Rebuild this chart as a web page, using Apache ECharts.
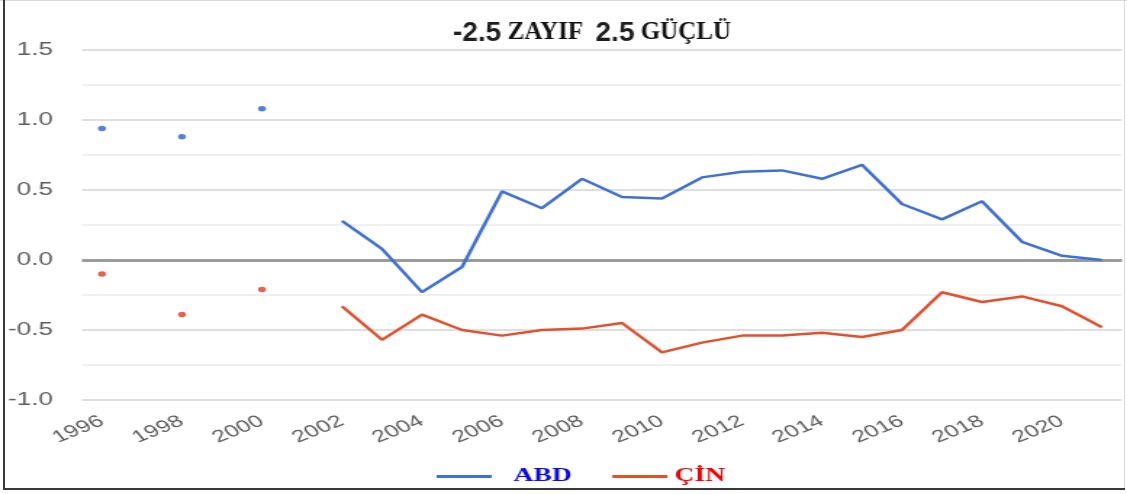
<!DOCTYPE html>
<html>
<head>
<meta charset="utf-8">
<script src="https://cdn.jsdelivr.net/npm/echarts@6/dist/echarts.min.js"></script>
<style>
  html, body { margin: 0; padding: 0; background: #fff; }
  #frame { position: relative; width: 1127px; height: 494px; overflow: hidden; background: #fff; }
  #chart { position: absolute; left: 0; top: 0; width: 777px; height: 494px; transform: scaleX(1.4505); transform-origin: 0 0; }
  .bd { position: absolute; }
</style>
</head>
<body>
<div id="frame">
  <div id="chart"></div>
  <div class="bd" style="left:0;top:0;width:1127px;height:1px;background:#d8d8d8"></div>
  <div class="bd" style="left:1124px;top:0;width:1px;height:490px;background:#d8d8d8"></div>
  <div class="bd" style="left:3px;top:0;width:2px;height:490px;background:#3a3a3a"></div>
  <div class="bd" style="left:3px;top:488px;width:1122px;height:2px;background:#3a3a3a"></div>
</div>
<script>
// ---- data ----
const years = ['1996','1997','1998','1999','2000','2001','2002','2003','2004','2005','2006','2007','2008',
               '2009','2010','2011','2012','2013','2014','2015','2016','2017','2018','2019','2020','2021'];
const abd = [0.94, null, 0.88, null, 1.08, null, 0.28, 0.08, -0.23, -0.05, 0.49, 0.37, 0.58,
             0.45, 0.44, 0.59, 0.63, 0.64, 0.58, 0.68, 0.40, 0.29, 0.42, 0.13, 0.03, 0.00];
const cin = [-0.10, null, -0.39, null, -0.21, null, -0.33, -0.57, -0.39, -0.50, -0.54, -0.50, -0.49,
             -0.45, -0.66, -0.59, -0.54, -0.54, -0.52, -0.55, -0.50, -0.23, -0.30, -0.26, -0.33, -0.48];
const seriesNames = ['ABD', 'ÇİN'];
const yMin = -1.0, yMax = 1.5, yStep = 0.5;
const titleParts = ['-2.5', ' ZAYIF  ', '2.5', ' GÜÇLÜ'];

const S = 1127 / 777; // horizontal stretch of the picture

function isolated(arr) {
  const out = [];
  arr.forEach((v, i) => {
    if (v == null) return;
    const prev = i > 0 ? arr[i - 1] : null;
    const next = i < arr.length - 1 ? arr[i + 1] : null;
    if (prev == null && next == null) out.push([years[i], v]);
  });
  return out;
}

const blue = '#3f70d8', red = '#e4502c';

const chart = echarts.init(document.getElementById('chart'), null, { renderer: 'canvas' });
chart.setOption({
  animation: false,
  backgroundColor: 'transparent',
  graphic: [{
    type: 'text',
    x: 592 / S,
    y: 33,
    scaleX: 1 / S,
    silent: true,
    style: {
      text: '{a|' + titleParts[0] + '}{b|' + titleParts[1] + '}{a|' + titleParts[2] + '}{b|' + titleParts[3] + '}',
      textAlign: 'center',
      textVerticalAlign: 'middle',
      rich: {
        a: { fontFamily: 'Liberation Sans', fontWeight: 'bold', fontSize: 28, fill: '#1e1e1e', color: '#1e1e1e' },
        b: { fontFamily: 'Liberation Serif', fontWeight: 'bold', fontSize: 25, fill: '#111', color: '#111' }
      }
    }
  }],
  legend: {
    left: 296,
    top: 462,
    icon: 'rect',
    itemWidth: 38,
    itemHeight: 3,
    itemGap: 28,
    selectedMode: false,
    data: [
      { name: seriesNames[0], textStyle: { color: '#0a0af0', padding: [0, 0, 0, 10] } },
      { name: seriesNames[1], textStyle: { color: '#f00000', padding: [0, 0, 0, 0] } }
    ],
    textStyle: { fontFamily: 'Liberation Serif', fontWeight: 'bold', fontSize: 19 }
  },
  grid: { left: 56.5, right: 3.5, top: 50, bottom: 94 },
  xAxis: {
    type: 'category',
    data: years,
    boundaryGap: true,
    axisLine: { show: false },
    axisTick: { show: false },
    splitLine: { show: false },
    axisLabel: {
      interval: 1,
      rotate: 30,
      margin: 20,
      color: '#5c5c5c',
      fontSize: 17,
      fontFamily: 'Liberation Sans'
    }
  },
  yAxis: {
    type: 'value',
    min: yMin,
    max: yMax,
    interval: yStep,
    axisLine: { show: false },
    axisTick: { show: false },
    axisLabel: {
      margin: 20,
      color: '#5e5e5e',
      fontSize: 18,
      fontFamily: 'Liberation Sans',
      formatter: v => v.toFixed(1)
    },
    splitLine: { lineStyle: { color: '#d4d4d4', width: 1.5 } },
    minorTick: { show: false, splitNumber: 2 },
    minorSplitLine: { show: true, lineStyle: { color: '#ececec', width: 1.5 } }
  },
  series: [
    {
      name: seriesNames[0],
      type: 'line',
      data: abd,
      connectNulls: false,
      showSymbol: false,
      symbol: 'none',
      color: blue,
      lineStyle: { color: blue, width: 2.5 },
      z: 3,
      markLine: {
        silent: true,
        symbol: ['none', 'none'],
        label: { show: false },
        lineStyle: { color: '#9b9b9b', width: 3, type: 'solid' },
        data: [{ yAxis: 0 }],
        z: 2
      }
    },
    {
      name: seriesNames[1],
      type: 'line',
      data: cin,
      connectNulls: false,
      showSymbol: false,
      symbol: 'none',
      color: red,
      lineStyle: { color: red, width: 2.5 },
      z: 3
    },
    {
      name: seriesNames[0] + ' (tek)',
      type: 'scatter',
      data: isolated(abd),
      symbol: 'circle',
      symbolSize: 5.5,
      itemStyle: { color: '#2a62d6' },
      z: 4
    },
    {
      name: seriesNames[1] + ' (tek)',
      type: 'scatter',
      data: isolated(cin),
      symbol: 'circle',
      symbolSize: 5.5,
      itemStyle: { color: '#e23a1e' },
      z: 4
    }
  ]
});
</script>
</body>
</html>
